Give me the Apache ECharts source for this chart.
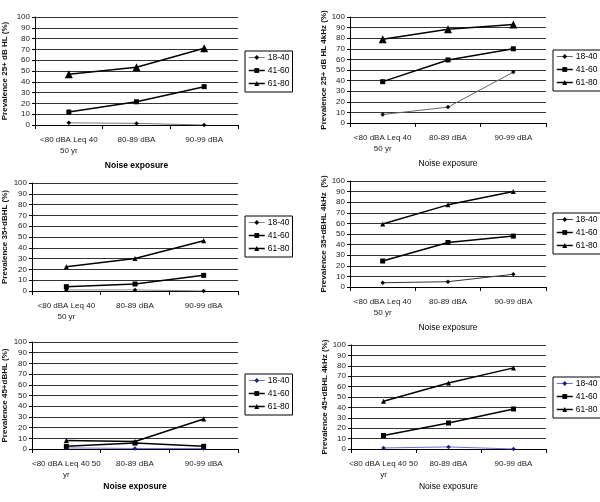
<!DOCTYPE html>
<html><head><meta charset="utf-8">
<script src="https://cdn.jsdelivr.net/npm/echarts@6/dist/echarts.min.js"></script>
<style>html,body{margin:0;padding:0;background:#fff}#c{width:600px;height:502px}</style>
</head><body><div id="c"></div>
<script>
// ---- data ----
const categoriesA = ['<80 dBA Leq 40\n50 yr', '80-89 dBA', '90-99 dBA'];
const categoriesB = ['<80 dBA Leq 40 50\nyr', '80-89 dBA', '90-99 dBA'];
const ageGroups = ['18-40', '41-60', '61-80'];
const yTickMin = 0, yTickMax = 100, yTickStep = 10;

const hl25_18_40 = [2, 1.5, 0];
const hl25_41_60 = [12, 21.5, 35.5];
const hl25_61_80 = [47, 53.5, 71];

const hl25k_18_40 = [8, 15, 48];
const hl25k_41_60 = [39, 59.5, 70];
const hl25k_61_80 = [79, 88.5, 93];

const hl35_18_40 = [1, 1, 0];
const hl35_41_60 = [4, 6.5, 14.5];
const hl35_61_80 = [22.5, 30, 46.5];

const hl35k_18_40 = [4, 5, 12];
const hl35k_41_60 = [24.5, 42, 48];
const hl35k_61_80 = [59.5, 77.5, 90];

const hl45_18_40 = [1, 0.5, 0.5];
const hl45_41_60 = [2.5, 5.5, 2.5];
const hl45_61_80 = [8, 7, 28];

const hl45k_18_40 = [1, 2, 0];
const hl45k_41_60 = [13, 25, 38.5];
const hl45k_61_80 = [46, 63.5, 78];

const yNames = [
  'Prevalence 25+ dB HL (%)',
  'Prevalence 25+ dB HL 4kHz (%)',
  'Prevalence 35+dBHL (%)',
  'Prevalence 35+dBHL 4kHz  (%)',
  'Prevalence 45+dBHL (%)',
  'Prevalence 45+dBHL 4kHz (%)'
];
const xName = 'Noise exposure';

// ---- layout ----
const panels = [
  {grid:{left:35,top:17,width:203,height:108}, cats:categoriesA, vals:[hl25_18_40,hl25_41_60,hl25_61_80], xname:true, xbold:true, nameGapY:26, legend:{left:245,top:51}, tri:8, blue:false, c18:'#777'},
  {grid:{left:350,top:17,width:196,height:106}, cats:categoriesA, vals:[hl25k_18_40,hl25k_41_60,hl25k_61_80], xname:true, xbold:false, nameGapY:19, legend:{left:553,top:50}, tri:8, blue:false, c18:'#666'},
  {grid:{left:32,top:183,width:206,height:108}, cats:categoriesA, vals:[hl35_18_40,hl35_41_60,hl35_61_80], xname:false, xbold:true, nameGapY:23, legend:{left:245,top:216}, tri:5, blue:false, c18:'#888'},
  {grid:{left:350,top:181,width:196,height:106}, cats:categoriesA, vals:[hl35k_18_40,hl35k_41_60,hl35k_61_80], xname:true, xbold:false, nameGapY:19, legend:{left:553,top:213}, tri:5, blue:false, c18:'#333'},
  {grid:{left:32,top:342,width:206,height:107}, cats:categoriesB, vals:[hl45_18_40,hl45_41_60,hl45_61_80], xname:true, xbold:true, nameGapY:23, legend:{left:245,top:374}, tri:5, blue:true, c18:'#7070d0'},
  {grid:{left:351,top:345,width:195,height:104}, cats:categoriesB, vals:[hl45k_18_40,hl45k_41_60,hl45k_61_80], xname:true, xbold:false, nameGapY:19, legend:{left:553,top:377}, tri:5, blue:true, c18:'#7070d0'}
];

const FONT = 'Liberation Sans, Arial, sans-serif';
const grid = [], xAxis = [], yAxis = [], series = [], legend = [];
const symbols = ['diamond', 'rect', 'triangle'];

panels.forEach((p, i) => {
  grid.push(Object.assign({containLabel:false}, p.grid));
  xAxis.push({
    type:'category', gridIndex:i, data:p.cats, boundaryGap:true,
    name: p.xname ? xName : '', nameLocation:'middle', nameGap: (p.cats===categoriesB? 33 : 36),
    nameTextStyle:{fontFamily:FONT, fontSize:8.5, fontWeight:p.xbold?'bold':'normal', color:'#000'},
    axisLine:{lineStyle:{color:'#000', width:1}},
    axisTick:{show:true, length:4, interval:0, alignWithLabel:false, lineStyle:{color:'#000'}},
    axisLabel:{fontFamily:FONT, fontSize:8, color:'#222', interval:0, margin:9, lineHeight:11}
  });
  yAxis.push({
    type:'value', gridIndex:i, min:yTickMin, max:yTickMax, interval:yTickStep,
    name:yNames[i], nameLocation:'middle', nameGap:p.nameGapY,
    nameTextStyle:{fontFamily:FONT, fontSize:8, fontWeight:'bold', color:'#111'},
    axisLine:{show:true, lineStyle:{color:'#000', width:1}},
    axisTick:{show:true, length:3, lineStyle:{color:'#000'}},
    axisLabel:{fontFamily:FONT, fontSize:8, color:'#222', margin:5},
    splitLine:{show:true, lineStyle:{color:'#333', width:1}}
  });
  const legData = [];
  ageGroups.forEach((g, k) => {
    const isYoung = k === 0;
    const lineColor = isYoung ? p.c18 : '#000';
    const markColor = isYoung ? (p.blue ? '#1c1c90' : '#000') : '#000';
    const size = k === 2 ? p.tri : (k === 1 ? 5 : 4.5);
    series.push({
      type:'line', name:g, xAxisIndex:i, yAxisIndex:i, data:p.vals[k],
      symbol:symbols[k], symbolSize:size, showSymbol:true, silent:true, animation:false,
      lineStyle:{color:lineColor, width: isYoung ? 1 : 1.5},
      itemStyle:{color:markColor, borderWidth:0}
    });
    legData.push({name:g, itemStyle:{color:markColor, borderWidth:0}, lineStyle:{color:lineColor, width: isYoung?1:1.5}});
  });
  legend.push({
    orient:'vertical', left:p.legend.left, top:p.legend.top, data:legData,
    itemWidth:16, itemHeight:6, itemGap:4, padding:[2,3,4,3],
    borderColor:'#000', borderWidth:1, selectedMode:false,
    textStyle:{fontFamily:FONT, fontSize:8.5, color:'#000', padding:[0,0,0,-2]}
  });
});

const chart = echarts.init(document.getElementById('c'), null, {renderer:'canvas'});
chart.setOption({backgroundColor:'#fff', animation:false, grid, xAxis, yAxis, series, legend});
</script></body></html>
